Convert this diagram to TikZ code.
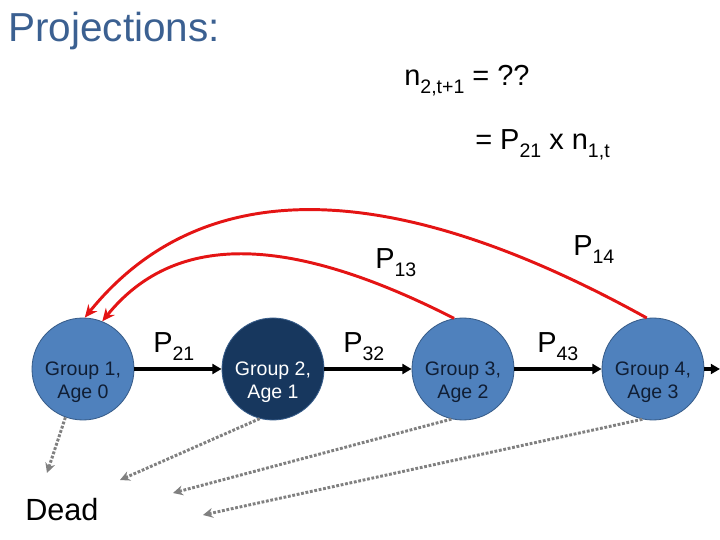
\documentclass[tikz,border=0pt]{standalone}
\usepackage{fontspec}
\setmainfont{Liberation Sans}
\usetikzlibrary{arrows.meta,positioning}
\definecolor{grpblue}{RGB}{79,129,189}
\definecolor{grpnavy}{RGB}{23,55,94}
\definecolor{grpline}{RGB}{56,93,138}
\definecolor{grptext}{RGB}{16,30,52}
\definecolor{titleblue}{RGB}{59,96,145}
\definecolor{backred}{RGB}{228,20,20}
\definecolor{deadgray}{RGB}{128,128,128}
\newcommand{\lowsub}[1]{\raisebox{-5.5pt}{\fontsize{13.9}{14}\selectfont #1}}

\begin{document}
\begin{tikzpicture}[
  group/.style={circle, draw=grpline, line width=0.6pt, fill=grpblue,
                minimum size=2.55cm, inner sep=0pt},
  gtext/.style={font=\fontsize{13.9}{17}\selectfont, text=grptext, align=center, inner sep=0pt},
  plabel/.style={font=\fontsize{20.6}{24}\selectfont, anchor=base west, inner sep=0pt},
  fwd/.style={-{Triangle[length=6.5pt,width=7pt]}, line width=2.6pt},
  back/.style={-{Stealth[length=9pt,width=8pt]}, draw=backred, line width=2.1pt},
  die/.style={-{Stealth[length=7pt,width=7pt]}, draw=deadgray, line width=2.1pt,
              dash pattern=on 2pt off 1.2pt},
]
\useasboundingbox (0,0) rectangle (18,13.5);

% Title and formula
\node[font=\fontsize{28.8}{34}\selectfont, text=titleblue, anchor=base west, inner sep=0pt]
  (title) at (0.2,12.45) {Projections:};
\node[plabel] (eq1) at (10.1,11.35) {n\lowsub{2,t+1} = ??};
\node[plabel] (eq2) at (11.875,9.75) {= P\lowsub{21} x n\lowsub{1,t}};

% Age groups
\node[group] (g1) at (2.075,4.275) {};
\node[group, fill=grpnavy] (g2) at (6.825,4.275) {};
\node[group] (g3) at (11.575,4.275) {};
\node[group] (g4) at (16.325,4.275) {};
\node[gtext] (t1) at ([yshift=-0.33cm]g1.center) {Group 1,\\Age 0};
\node[gtext, text=white] (t2) at ([yshift=-0.33cm]g2.center) {Group 2,\\Age 1};
\node[gtext] (t3) at ([yshift=-0.33cm]g3.center) {Group 3,\\Age 2};
\node[gtext] (t4) at ([yshift=-0.33cm]g4.center) {Group 4,\\Age 3};
\coordinate (out) at (18,4.275);

% Survival
\draw[fwd] (g1) -- (g2);
\draw[fwd] (g2) -- (g3);
\draw[fwd] (g3) -- (g4);
\draw[fwd] (g4) -- (out);
\node[plabel] (p21) at (3.825,4.675) {P\lowsub{21}};
\node[plabel] (p32) at (8.575,4.675) {P\lowsub{32}};
\node[plabel] (p43) at (13.425,4.675) {P\lowsub{43}};

% Births
\draw[back] (g4.97) .. controls +(151:7.4) and +(51:4.6) .. (g1.88);
\draw[back] (g3.100) .. controls +(153:4.8) and +(51:2.8) .. (g1.68);
\node[plabel] (p13) at (9.375,6.775) {P\lowsub{13}};
\node[plabel] (p14) at (14.325,7.1) {P\lowsub{14}};

% Deaths
\node[font=\fontsize{21.8}{26}\selectfont, anchor=base west, inner sep=0pt]
  (dead) at (0.625,0.475) {Dead};
\coordinate (d1) at (1.175,1.675);
\coordinate (d2) at (3.0,1.5);
\coordinate (d3) at (4.325,1.175);
\coordinate (d4) at (5.075,0.625);
\draw[die] (g1.250) -- (d1);
\draw[die] (g2.255) -- (d2);
\draw[die] (g3.257) -- (d3);
\draw[die] (g4.258) -- (d4);
\end{tikzpicture}
\end{document}
